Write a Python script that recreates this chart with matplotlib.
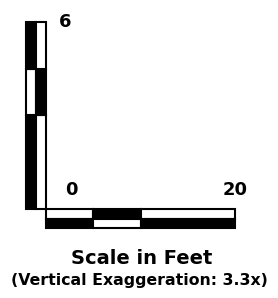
import matplotlib
matplotlib.use("Agg")
import matplotlib.pyplot as plt
from matplotlib.patches import Rectangle

# Escala horizontal (pies) y vertical (pies)
horiz_edges = [0, 5, 10, 20]
vert_edges = [0, 3, 4.5, 6]
horiz_labels = ["0", "20"]
vert_label = "6"
title = "Scale in Feet"
subtitle = "(Vertical Exaggeration: 3.3x)"

# grosor de las barras (en unidades del eje)
bar_h = 0.61   # alto de la barra horizontal, en pies verticales
bar_w = 2.1    # ancho de la barra vertical, en pies horizontales

fig = plt.figure(figsize=(2.78, 2.98), dpi=100)
ax = fig.add_axes([0, 0, 1, 1])
ax.set_xlim(-4.87, 24.55)
ax.set_ylim(-2.85, 6.70)
ax.axis("off")

# Barra horizontal: dos filas alternadas
for i in range(len(horiz_edges) - 1):
    x0, x1 = horiz_edges[i], horiz_edges[i + 1]
    top = "white" if i % 2 == 0 else "black"
    bot = "black" if i % 2 == 0 else "white"
    ax.add_patch(Rectangle((x0, -bar_h / 2), x1 - x0, bar_h / 2,
                           facecolor=top, edgecolor="black", linewidth=1.5))
    ax.add_patch(Rectangle((x0, -bar_h), x1 - x0, bar_h / 2,
                           facecolor=bot, edgecolor="black", linewidth=1.5))

# Barra vertical: dos columnas alternadas
for i in range(len(vert_edges) - 1):
    y0, y1 = vert_edges[i], vert_edges[i + 1]
    left = "black" if i % 2 == 0 else "white"
    right = "white" if i % 2 == 0 else "black"
    ax.add_patch(Rectangle((-bar_w, y0), bar_w / 2, y1 - y0,
                           facecolor=left, edgecolor="black", linewidth=1.5))
    ax.add_patch(Rectangle((-bar_w / 2, y0), bar_w / 2, y1 - y0,
                           facecolor=right, edgecolor="black", linewidth=1.5))

# Etiquetas de la escala
ax.text(2.65, 0.62, horiz_labels[0], ha="center", va="center",
        fontsize=13, fontweight="bold")
ax.text(horiz_edges[-1], 0.62, horiz_labels[1], ha="center", va="center",
        fontsize=13, fontweight="bold")
ax.text(2.0, vert_edges[-1], vert_label, ha="center", va="center",
        fontsize=13, fontweight="bold")

# Titulo debajo
fig.text(0.51, 0.134, title, ha="center", va="center",
         fontsize=14, fontweight="bold")
fig.text(0.50, 0.060, subtitle, ha="center", va="center",
         fontsize=11.3, fontweight="bold")

fig.savefig("out.png", dpi=100)
